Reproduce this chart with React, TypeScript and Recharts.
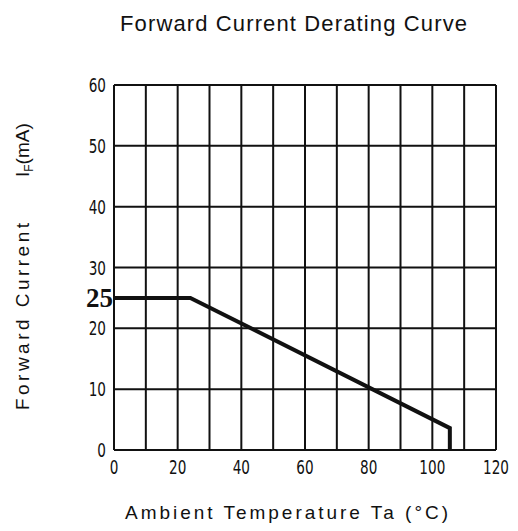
import { LineChart, Line, XAxis, YAxis, CartesianGrid, ReferenceDot } from "recharts";

// derating curve
const temps = [0, 24, 105.5, 105.5];
const currents = [25, 25, 3.6, 0];

const xTicks = [0, 10, 20, 30, 40, 50, 60, 70, 80, 90, 100, 110, 120];
const yTicks = [0, 10, 20, 30, 40, 50, 60];
const ratedCurrent = 25;

const data = temps.map((t, i) => ({ t, current: currents[i] }));

const tickFont = "'DejaVu Sans', sans-serif";
const labelFont = "'Liberation Sans', Arial, sans-serif";

// the datasheet digits are tall and narrow, squeeze them horizontally
const XTick = ({ x, y, payload }: any) => {
  if (payload.value % 20 !== 0) return null;
  return (
    <text
      transform={`translate(${x}, ${y + 2}) scale(0.68, 1)`}
      dy="0.71em"
      textAnchor="middle"
      fontFamily={tickFont}
      fontSize={20}
      fill="#111"
    >
      {payload.value}
    </text>
  );
};

const YTick = ({ x, y, payload }: any) => (
  <text
    transform={`translate(${x}, ${y}) scale(0.68, 1)`}
    dy="0.35em"
    textAnchor="end"
    fontFamily={tickFont}
    fontSize={20}
    fill="#111"
  >
    {payload.value}
  </text>
);

const RatedLabel = ({ viewBox }: any) => (
  <text
    x={viewBox.x - 1}
    y={viewBox.y}
    dy="0.35em"
    textAnchor="end"
    fontFamily="'Liberation Serif', 'Times New Roman', serif"
    fontSize={27}
    fontWeight="bold"
    fill="#111"
  >
    {ratedCurrent}
  </text>
);

export default function App() {
  return (
    <div style={{ position: "absolute", left: 0, top: 0, width: 518, height: 531, background: "#fff" }}>
      <LineChart width={518} height={531} data={data} margin={{ top: 85, right: 22, bottom: 51, left: 74 }}>
        <CartesianGrid stroke="#111" strokeWidth={2} />
        <XAxis
          dataKey="t"
          type="number"
          domain={[0, 120]}
          ticks={xTicks}
          interval={0}
          height={30}
          tick={<XTick />}
          tickLine={false}
          axisLine={{ stroke: "#111", strokeWidth: 2 }}
        />
        <YAxis
          type="number"
          domain={[0, 60]}
          ticks={yTicks}
          interval={0}
          width={40}
          tick={<YTick />}
          tickLine={false}
          axisLine={{ stroke: "#111", strokeWidth: 2 }}
        />
        <Line
          type="linear"
          dataKey="current"
          stroke="#111"
          strokeWidth={4}
          dot={false}
          isAnimationActive={false}
        />
        <ReferenceDot x={0} y={ratedCurrent} r={0} label={<RatedLabel />} />
      </LineChart>
      <svg width={518} height={531} style={{ position: "absolute", left: 0, top: 0, pointerEvents: "none" }}>
        <text x={120} y={31} fontFamily={labelFont} fontSize={22} fill="#111" textLength={347} lengthAdjust="spacing">
          Forward Current Derating Curve
        </text>
        <text x={125} y={519} fontFamily={labelFont} fontSize={19} fill="#111" textLength={323} lengthAdjust="spacing">
          Ambient Temperature Ta (°C)
        </text>
        <text
          transform="translate(29, 410) rotate(-90)"
          fontFamily={labelFont}
          fontSize={19}
          fill="#111"
          textLength={187}
          lengthAdjust="spacing"
        >
          Forward Current
        </text>
        <text transform="translate(29, 177) rotate(-90)" fontFamily={labelFont} fontSize={19} fill="#111">
          I<tspan fontSize={12} dy={4}>F</tspan>
          <tspan dy={-4}>(mA)</tspan>
        </text>
      </svg>
    </div>
  );
}
